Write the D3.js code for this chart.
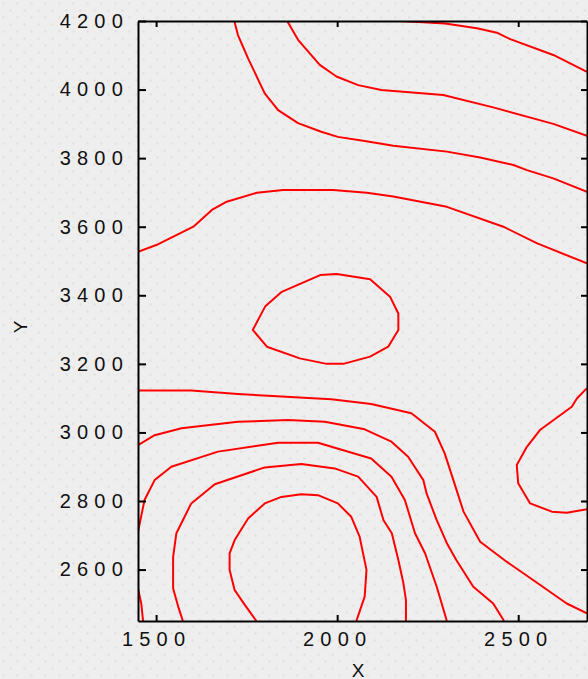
<!DOCTYPE html>
<html>
<head>
<meta charset="utf-8">
<script src="https://cdn.jsdelivr.net/npm/d3@7"></script>
<style>
  html, body { margin: 0; padding: 0; background: #ededed; }
  svg { display: block; }
  .tick text { font-family: "Liberation Sans", Arial, sans-serif; font-size: 20px; letter-spacing: 6.2px; fill: #111; }
  .axis-title { font-family: "Liberation Sans", Arial, sans-serif; font-size: 19px; fill: #111; }
</style>
</head>
<body>
<script>
// Axis extents and tick values
const xDomain = [1450, 2690];
const yDomain = [2450, 4200];
const xTicks = [1500, 2000, 2500];
const yTicks = [2600, 2800, 3000, 3200, 3400, 3600, 3800, 4000, 4200];

// Contour polylines, [X, Y] in data units
const contourA = [[1716,4200],[1726,4159],[1754,4091],[1800,3989],[1837,3940],[1892,3902],[1956,3877],[2002,3862],[2076,3850],[2118,3843],[2155,3836],[2303,3819],[2395,3802],[2487,3780],[2524,3765],[2597,3741],[2690,3702]];
const contourB = [[1862,4200],[1892,4145],[1952,4072],[1998,4038],[2058,4013],[2122,3999],[2293,3984],[2431,3948],[2597,3900],[2690,3865]];
const contourC = [[2174,4200],[2298,4193],[2386,4179],[2441,4166],[2478,4147],[2597,4101],[2690,4052]];
const contourD = [[1450,3527],[1506,3549],[1603,3600],[1654,3649],[1695,3673],[1778,3699],[1851,3707],[1989,3707],[2082,3699],[2155,3688],[2303,3658],[2459,3600],[2551,3552],[2690,3493]];
const contourE = [[1767,3299],[1801,3367],[1847,3410],[1953,3459],[1999,3462],[2091,3447],[2146,3396],[2169,3347],[2169,3299],[2141,3250],[2091,3221],[2017,3200],[1971,3200],[1897,3216],[1806,3250]];
const contourF = [[1450,3122],[1597,3122],[1726,3112],[1984,3097],[2094,3083],[2205,3056],[2270,3002],[2297,2939],[2321,2861],[2349,2769],[2395,2681],[2468,2623],[2542,2569],[2634,2501],[2690,2472]];
const contourG = [[1450,2963],[1496,2992],[1570,3012],[1726,3031],[1864,3036],[1966,3031],[2076,3009],[2150,2973],[2196,2929],[2238,2861],[2247,2822],[2275,2744],[2303,2677],[2329,2628],[2376,2550],[2431,2501],[2461,2450]];
const contourH = [[1450,2710],[1468,2803],[1496,2861],[1542,2900],[1671,2944],[1837,2970],[1947,2970],[2094,2924],[2150,2871],[2187,2803],[2215,2706],[2243,2647],[2275,2550],[2303,2450]];
const contourI = [[1574,2450],[1561,2492],[1547,2545],[1547,2637],[1556,2706],[1597,2793],[1662,2849],[1800,2898],[1901,2908],[1993,2895],[2058,2871],[2109,2812],[2128,2744],[2151,2706],[2169,2628],[2183,2560],[2190,2511],[2190,2450]];
const contourJ = [[1777,2450],[1745,2497],[1717,2540],[1703,2599],[1703,2647],[1717,2686],[1754,2749],[1800,2793],[1846,2812],[1901,2820],[1947,2817],[2002,2793],[2039,2754],[2062,2696],[2081,2599],[2076,2521],[2053,2450]];
const contourK = [[2690,3129],[2662,3099],[2648,3075],[2560,3007],[2524,2958],[2496,2905],[2500,2852],[2533,2793],[2593,2769],[2634,2766],[2690,2776]];
const contourL = [[1450,2545],[1459,2501],[1464,2450]];

const openContours = [contourA, contourB, contourC, contourD, contourF, contourG, contourH, contourI, contourJ, contourK, contourL];
const closedContours = [contourE];

const W = 588, H = 679;
const plotLeft = 138, plotRight = 587, plotTop = 21, plotBottom = 621;

const svg = d3.select("body").append("svg").attr("width", W).attr("height", H);

// Dotted paper texture
const defs = svg.append("defs");
const pat = defs.append("pattern").attr("id", "dots").attr("patternUnits", "userSpaceOnUse")
  .attr("width", 14).attr("height", 14);
pat.append("rect").attr("width", 14).attr("height", 14).attr("fill", "#eeeeee");
pat.append("circle").attr("cx", 3.5).attr("cy", 3.5).attr("r", 1.3).attr("fill", "#e2e2e2");
pat.append("circle").attr("cx", 10.5).attr("cy", 10.5).attr("r", 1.3).attr("fill", "#e2e2e2");
svg.append("rect").attr("width", W).attr("height", H).attr("fill", "url(#dots)");

defs.append("clipPath").attr("id", "plot-clip").append("rect")
  .attr("x", plotLeft).attr("y", plotTop).attr("width", plotRight - plotLeft).attr("height", plotBottom - plotTop);

const x = d3.scaleLinear().domain(xDomain).range([plotLeft, plotRight]);
const y = d3.scaleLinear().domain(yDomain).range([plotBottom, plotTop]);

// Contour lines
const line = d3.line().x(d => x(d[0])).y(d => y(d[1]));
const lineClosed = d3.line().x(d => x(d[0])).y(d => y(d[1])).curve(d3.curveLinearClosed);
const g = svg.append("g").attr("clip-path", "url(#plot-clip)");
g.selectAll("path.open").data(openContours).join("path").attr("class", "open")
  .attr("d", line).attr("fill", "none").attr("stroke", "#ff0000").attr("stroke-width", 2)
  .attr("stroke-linejoin", "round");
g.selectAll("path.closed").data(closedContours).join("path").attr("class", "closed")
  .attr("d", lineClosed).attr("fill", "none").attr("stroke", "#ff0000").attr("stroke-width", 2)
  .attr("stroke-linejoin", "round");

// Frame with inward ticks on all four sides
function styleAxis(sel) {
  sel.select(".domain").attr("stroke", "#000").attr("stroke-width", 2);
  sel.selectAll(".tick line").attr("stroke", "#000").attr("stroke-width", 2);
}
svg.append("g").attr("transform", `translate(${plotLeft},0)`)
  .call(d3.axisLeft(y).tickValues(yTicks).tickSize(-8).tickSizeOuter(0).tickPadding(9).tickFormat(d3.format("d")))
  .call(styleAxis)
  .call(s => s.selectAll(".tick text").attr("fill", "#111"));
svg.append("g").attr("transform", `translate(0,${plotBottom})`)
  .call(d3.axisBottom(x).tickValues(xTicks).tickSize(-6).tickSizeOuter(0).tickPadding(11).tickFormat(d3.format("d")))
  .call(styleAxis)
  .call(s => s.selectAll(".tick text").attr("fill", "#111"));
svg.append("g").attr("transform", `translate(0,${plotTop})`)
  .call(d3.axisTop(x).tickValues(xTicks).tickSize(-6).tickSizeOuter(0).tickFormat(""))
  .call(styleAxis);
svg.append("g").attr("transform", `translate(${plotRight},0)`)
  .call(d3.axisRight(y).tickValues(yTicks).tickSize(-6).tickSizeOuter(0).tickFormat(""))
  .call(styleAxis);

// Axis titles
svg.append("text").attr("class", "axis-title").attr("x", 358).attr("y", 670)
  .attr("text-anchor", "middle").attr("dominant-baseline", "central").text("X");
svg.append("text").attr("class", "axis-title").attr("transform", "translate(20,327) rotate(-90)")
  .attr("text-anchor", "middle").attr("dominant-baseline", "central").text("Y");
</script>
</body>
</html>
